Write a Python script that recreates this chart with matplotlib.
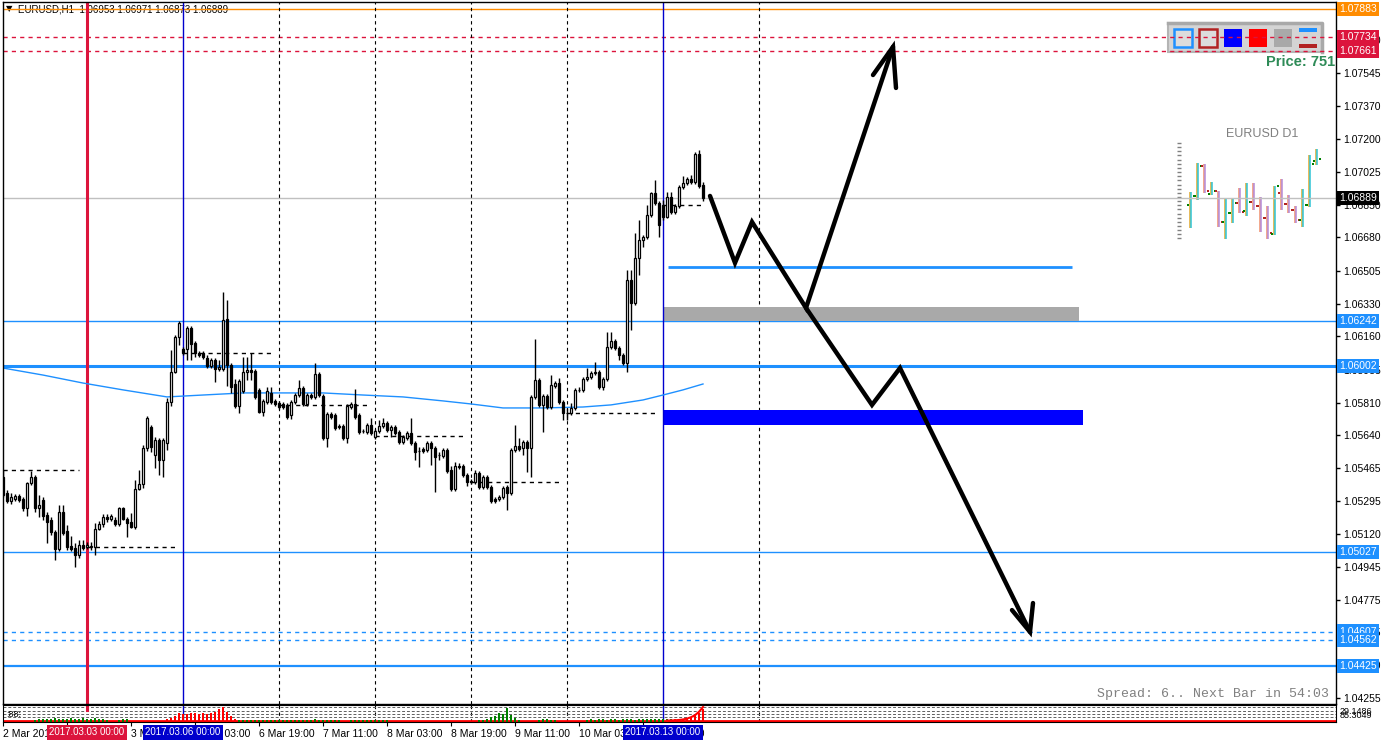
import numpy as np
import matplotlib.pyplot as plt
from matplotlib.patches import Rectangle
from matplotlib.transforms import blended_transform_factory

plt.rcParams['font.family'] = ['Liberation Sans', 'DejaVu Sans']

W, H = 1381, 744

# EURUSD H1 bars, bar 0 = 2 Mar 2017 03:00, last bar = 13 Mar 10:00
opens = [1.05420, 1.05336, 1.05294, 1.05304, 1.05320, 1.05304, 1.05257, 1.05388, 1.05420, 1.05257,
         1.05299, 1.05220, 1.05194, 1.05131, 1.05041, 1.05236, 1.05136, 1.05057, 1.05047, 1.05010,
         1.05062, 1.05052, 1.05052, 1.05052, 1.05146, 1.05173, 1.05210, 1.05199, 1.05194, 1.05173,
         1.05257, 1.05199, 1.05183, 1.05157, 1.05357, 1.05383, 1.05573, 1.05683, 1.05536, 1.05615,
         1.05509, 1.05599, 1.05814, 1.05972, 1.06156, 1.06093, 1.06093, 1.06204, 1.06125, 1.06072,
         1.06072, 1.06046, 1.06004, 1.06035, 1.05988, 1.05988, 1.06251, 1.06009, 1.05909, 1.05793,
         1.05872, 1.05972, 1.05983, 1.05978, 1.05878, 1.05762, 1.05814, 1.05862, 1.05820, 1.05809,
         1.05804, 1.05799, 1.05746, 1.05814, 1.05851, 1.05888, 1.05804, 1.05851, 1.05841, 1.05962,
         1.05846, 1.05625, 1.05751, 1.05746, 1.05688, 1.05688, 1.05625, 1.05788, 1.05804, 1.05746,
         1.05662, 1.05657, 1.05693, 1.05630, 1.05662, 1.05688, 1.05704, 1.05667, 1.05683, 1.05657,
         1.05604, 1.05625, 1.05651, 1.05599, 1.05557, 1.05567, 1.05562, 1.05599, 1.05573, 1.05536,
         1.05530, 1.05562, 1.05457, 1.05357, 1.05478, 1.05478, 1.05430, 1.05399, 1.05394, 1.05441,
         1.05367, 1.05420, 1.05367, 1.05304, 1.05304, 1.05315, 1.05367, 1.05336, 1.05562, 1.05583,
         1.05573, 1.05604, 1.05573, 1.05841, 1.05930, 1.05799, 1.05846, 1.05788, 1.05899, 1.05914,
         1.05814, 1.05757, 1.05757, 1.05783, 1.05878, 1.05878, 1.05935, 1.05946, 1.05967, 1.05972,
         1.05893, 1.05935, 1.06104, 1.06135, 1.06099, 1.06062, 1.06020, 1.06456, 1.06335, 1.06572,
         1.06667, 1.06682, 1.06798, 1.06914, 1.06861, 1.06851, 1.06788, 1.06893, 1.06814, 1.06845,
         1.06945, 1.06966, 1.06987, 1.06972, 1.07119, 1.06953]
closes = [1.05325, 1.05294, 1.05315, 1.05320, 1.05299, 1.05257, 1.05388, 1.05420, 1.05257, 1.05273,
          1.05215, 1.05183, 1.05131, 1.05041, 1.05236, 1.05125, 1.05052, 1.05041, 1.05010, 1.05062,
          1.05047, 1.05062, 1.05057, 1.05146, 1.05173, 1.05210, 1.05199, 1.05215, 1.05173, 1.05257,
          1.05199, 1.05178, 1.05157, 1.05357, 1.05383, 1.05573, 1.05730, 1.05578, 1.05615, 1.05509,
          1.05615, 1.05814, 1.05972, 1.06156, 1.06230, 1.06072, 1.06204, 1.06120, 1.06072, 1.06062,
          1.06051, 1.06004, 1.06035, 1.05988, 1.05999, 1.06246, 1.06009, 1.05893, 1.05793, 1.05925,
          1.05972, 1.05983, 1.05972, 1.05841, 1.05762, 1.05820, 1.05872, 1.05814, 1.05804, 1.05788,
          1.05788, 1.05736, 1.05814, 1.05851, 1.05888, 1.05804, 1.05851, 1.05841, 1.05962, 1.05851,
          1.05625, 1.05751, 1.05736, 1.05678, 1.05683, 1.05625, 1.05793, 1.05804, 1.05736, 1.05657,
          1.05660, 1.05693, 1.05651, 1.05662, 1.05688, 1.05704, 1.05667, 1.05683, 1.05651, 1.05604,
          1.05630, 1.05651, 1.05599, 1.05551, 1.05554, 1.05557, 1.05599, 1.05573, 1.05525, 1.05533,
          1.05562, 1.05452, 1.05357, 1.05478, 1.05473, 1.05430, 1.05394, 1.05396, 1.05441, 1.05367,
          1.05420, 1.05367, 1.05294, 1.05294, 1.05315, 1.05362, 1.05336, 1.05562, 1.05583, 1.05567,
          1.05604, 1.05573, 1.05841, 1.05930, 1.05799, 1.05846, 1.05788, 1.05904, 1.05914, 1.05814,
          1.05757, 1.05754, 1.05783, 1.05878, 1.05875, 1.05935, 1.05946, 1.05967, 1.05972, 1.05893,
          1.05935, 1.06104, 1.06135, 1.06099, 1.06062, 1.06020, 1.06456, 1.06335, 1.06572, 1.06667,
          1.06682, 1.06798, 1.06914, 1.06861, 1.06745, 1.06788, 1.06893, 1.06814, 1.06845, 1.06945,
          1.06966, 1.06987, 1.06972, 1.07119, 1.06951, 1.06889]
highs = [1.05457, 1.05352, 1.05336, 1.05331, 1.05331, 1.05315, 1.05394, 1.05452, 1.05430, 1.05325,
         1.05315, 1.05236, 1.05210, 1.05141, 1.05273, 1.05273, 1.05167, 1.05110, 1.05073, 1.05089,
         1.05089, 1.05078, 1.05078, 1.05178, 1.05189, 1.05225, 1.05225, 1.05225, 1.05210, 1.05262,
         1.05262, 1.05210, 1.05231, 1.05404, 1.05457, 1.05588, 1.05741, 1.05693, 1.05630, 1.05625,
         1.05625, 1.05836, 1.06088, 1.06167, 1.06241, 1.06104, 1.06214, 1.06214, 1.06135, 1.06083,
         1.06083, 1.06062, 1.06046, 1.06046, 1.06035, 1.06393, 1.06351, 1.06020, 1.05935, 1.05935,
         1.06051, 1.06051, 1.06072, 1.05988, 1.05888, 1.05830, 1.05893, 1.05893, 1.05830, 1.05820,
         1.05814, 1.05809, 1.05825, 1.05862, 1.05930, 1.05899, 1.05862, 1.05862, 1.06020, 1.05972,
         1.05857, 1.05762, 1.05762, 1.05757, 1.05699, 1.05699, 1.05804, 1.05814, 1.05883, 1.05757,
         1.05672, 1.05704, 1.05730, 1.05672, 1.05720, 1.05730, 1.05715, 1.05693, 1.05693, 1.05667,
         1.05641, 1.05662, 1.05730, 1.05609, 1.05578, 1.05578, 1.05609, 1.05609, 1.05583, 1.05551,
         1.05573, 1.05573, 1.05478, 1.05499, 1.05494, 1.05488, 1.05441, 1.05409, 1.05457, 1.05452,
         1.05430, 1.05430, 1.05378, 1.05315, 1.05325, 1.05373, 1.05378, 1.05573, 1.05693, 1.05625,
         1.05615, 1.05615, 1.05851, 1.06146, 1.05941, 1.05857, 1.05857, 1.05956, 1.05925, 1.05941,
         1.05825, 1.05783, 1.05809, 1.05888, 1.05893, 1.05946, 1.05993, 1.05978, 1.06025, 1.05983,
         1.05946, 1.06183, 1.06183, 1.06146, 1.06109, 1.06072, 1.06509, 1.06509, 1.06703, 1.06772,
         1.06693, 1.06851, 1.06919, 1.06982, 1.06872, 1.06877, 1.06919, 1.06919, 1.06856, 1.06956,
         1.07003, 1.06998, 1.07008, 1.07129, 1.07140, 1.06971]
lows = [1.05315, 1.05283, 1.05278, 1.05294, 1.05288, 1.05241, 1.05215, 1.05378, 1.05236, 1.05210,
        1.05194, 1.05073, 1.05115, 1.04983, 1.05031, 1.05115, 1.05036, 1.05031, 1.04947, 1.04994,
        1.05036, 1.05041, 1.05036, 1.05010, 1.05141, 1.05157, 1.05183, 1.05189, 1.05162, 1.05162,
        1.05194, 1.05104, 1.05152, 1.05146, 1.05352, 1.05362, 1.05557, 1.05551, 1.05467, 1.05430,
        1.05420, 1.05562, 1.05793, 1.05967, 1.06114, 1.06062, 1.06035, 1.06035, 1.06051, 1.06051,
        1.06041, 1.05993, 1.05993, 1.05920, 1.05978, 1.05978, 1.05899, 1.05862, 1.05783, 1.05757,
        1.05862, 1.05930, 1.05930, 1.05830, 1.05757, 1.05741, 1.05804, 1.05804, 1.05793, 1.05778,
        1.05778, 1.05725, 1.05725, 1.05804, 1.05841, 1.05793, 1.05793, 1.05830, 1.05830, 1.05841,
        1.05615, 1.05578, 1.05725, 1.05667, 1.05672, 1.05615, 1.05599, 1.05778, 1.05725, 1.05646,
        1.05651, 1.05646, 1.05641, 1.05620, 1.05651, 1.05678, 1.05657, 1.05630, 1.05641, 1.05594,
        1.05594, 1.05615, 1.05588, 1.05509, 1.05473, 1.05546, 1.05551, 1.05483, 1.05341, 1.05509,
        1.05520, 1.05441, 1.05346, 1.05346, 1.05462, 1.05420, 1.05373, 1.05383, 1.05383, 1.05357,
        1.05357, 1.05357, 1.05283, 1.05283, 1.05294, 1.05304, 1.05246, 1.05325, 1.05551, 1.05557,
        1.05536, 1.05446, 1.05420, 1.05830, 1.05788, 1.05657, 1.05778, 1.05778, 1.05888, 1.05804,
        1.05720, 1.05720, 1.05746, 1.05772, 1.05867, 1.05867, 1.05925, 1.05935, 1.05956, 1.05883,
        1.05878, 1.05925, 1.06093, 1.06088, 1.06035, 1.06009, 1.05972, 1.06193, 1.06325, 1.06482,
        1.06630, 1.06672, 1.06788, 1.06851, 1.06682, 1.06772, 1.06782, 1.06803, 1.06803, 1.06835,
        1.06935, 1.06956, 1.06961, 1.06961, 1.06940, 1.06873]

# moving average (sampled)
ma_bars = [0, 10, 20, 30, 41, 50, 60, 70, 80, 90, 100, 110, 117, 125, 135, 145, 152, 160, 165, 170, 175]
ma_vals = [1.05993, 1.05956, 1.05914, 1.05878, 1.05841, 1.05851, 1.05862, 1.05862, 1.05862, 1.05851,
           1.05841, 1.05820, 1.05804, 1.05783, 1.05783, 1.05788, 1.05799, 1.05825, 1.05851, 1.05878, 1.05909]

# daily open levels
day_starts = [-3, 21, 45, 69, 93, 117, 141, 165]
day_levels = [1.05457, 1.05052, 1.06072, 1.05799, 1.05636, 1.05394, 1.05757, 1.06851]

# horizontal levels: price, colour, dashed, width
levels = [(1.07883, '#ff8c00', False, 1.0), (1.07734, '#dc143c', True, 1.0), (1.07661, '#dc143c', True, 1.0),
          (1.06889, '#c0c0c0', False, 1.0), (1.06242, '#1e90ff', False, 1.0), (1.06002, '#1e90ff', False, 2.2),
          (1.05027, '#1e90ff', False, 1.0), (1.04607, '#1e90ff', True, 1.0), (1.04562, '#1e90ff', True, 1.0),
          (1.04425, '#1e90ff', False, 1.6)]
label_colors = ['#ff8c00', '#dc143c', '#dc143c', 'black', '#1e90ff', '#1e90ff', '#1e90ff', '#1e90ff', '#1e90ff', '#1e90ff']

price_ticks = [1.07720, 1.07545, 1.07370, 1.07200, 1.07025, 1.06850, 1.06680, 1.06505, 1.06330, 1.06160,
               1.05985, 1.05810, 1.05640, 1.05465, 1.05295, 1.05120, 1.04945, 1.04775, 1.04605, 1.04430, 1.04255]

time_ticks = [0, 16, 32, 48, 64, 80, 96, 112, 128, 144, 160]
time_labels = ['2 Mar 2017', '2 Mar 19:00', '3 Mar 11:00', '6 Mar 03:00', '6 Mar 19:00', '7 Mar 11:00',
               '8 Mar 03:00', '8 Mar 19:00', '9 Mar 11:00', '10 Mar 03:00', '10 Mar 19:00']
day_grid = [69, 93, 117, 141, 189]

# drawn objects
level_seg = (166.25, 267.25, 1.06522)
gray_zone = (165, 269, 1.06242, 1.06314)
blue_zone = (165, 270, 1.05693, 1.05772)
up_path_x = [176.75, 183, 187.25, 200.75, 222.5]
up_path_y = [1.06898, 1.06546, 1.06761, 1.06309, 1.07682]
up_head_x = [217.5, 222.5, 223.25]
up_head_y = [1.07534, 1.07682, 1.07466]
dn_path_x = [200.75, 217.25, 224.25, 256.75]
dn_path_y = [1.06309, 1.05799, 1.05993, 1.04605]
dn_head_x = [252.25, 256.75, 257.5]
dn_head_y = [1.04720, 1.04605, 1.04757]

# volume indicator
vol_green = [0, 0, 0, 0, 0, 0, 0, 0, 0.12, 0.15, 0.2, 0.18, 0.2, 0.22, 0.2, 0.18, 0.2, 0.22, 0.2, 0.2,
             0.22, 0.2, 0.2, 0.25, 0.2, 0.18, 0.1, 0, 0, 0.1, 0.15, 0.15, 0, 0, 0, 0, 0, 0, 0, 0,
             0, 0, 0, 0, 0, 0, 0, 0, 0, 0, 0, 0, 0, 0, 0, 0, 0, 0, 0, 0.1,
             0.12, 0.1, 0.12, 0.1, 0.1, 0.12, 0.1, 0.1, 0.12, 0.1, 0.12, 0.1, 0.1, 0.12, 0.1, 0.1, 0.12, 0.1, 0.15, 0.12,
             0.1, 0.12, 0.1, 0.12, 0.1, 0, 0, 0.1, 0.12, 0.1, 0.12, 0.14, 0.12, 0.1, 0.1, 0.12, 0.1, 0, 0, 0,
             0, 0, 0, 0, 0, 0, 0, 0, 0, 0, 0, 0, 0, 0, 0, 0, 0, 0, 0, 0.1,
             0.12, 0.15, 0.3, 0.35, 0.55, 0.45, 0.85, 0.4, 0.25, 0.1, 0, 0, 0, 0, 0.12, 0.15, 0.15, 0.12, 0.1, 0,
             0, 0, 0, 0, 0, 0, 0.12, 0.15, 0.12, 0.15, 0.15, 0.12, 0.15, 0.15, 0.12, 0.15, 0.15, 0.15, 0.12, 0.15,
             0.15, 0.15, 0.15, 0.15, 0.15, 0.15, 0.15, 0.15, 0.15, 0.15, 0.15, 0.15, 0.15, 0.15, 0.15, 0.15]
red_start1 = 41
vol_red1 = [0.15, 0.25, 0.35, 0.55, 0.45, 0.5, 0.55, 0.55, 0.5, 0.55, 0.5, 0.55, 0.6, 0.75, 0.9, 0.6, 0.35, 0.2]
red_start2 = 166
vol_red2 = [0.12, 0.12, 0.15, 0.15, 0.2, 0.25, 0.3, 0.4, 0.55, 0.75]
red_line2 = [0.08, 0.09, 0.1, 0.12, 0.15, 0.2, 0.28, 0.4, 0.6, 0.88]

# EURUSD D1 mini chart
d1_open = [1.0623, 1.0656, 1.0768, 1.0663, 1.0676, 1.0561, 1.0594, 1.0631, 1.0602, 1.0635,
           1.0619, 1.0576, 1.0514, 1.0668, 1.0627, 1.0604, 1.0567, 1.0623, 1.0787]
d1_high = [1.0672, 1.0778, 1.0775, 1.0708, 1.0676, 1.0649, 1.0649, 1.0686, 1.0704, 1.0704,
           1.0653, 1.0619, 1.0693, 1.0719, 1.0660, 1.0619, 1.0682, 1.0808, 1.0830]
d1_low = [1.0537, 1.0641, 1.0667, 1.0660, 1.0543, 1.0497, 1.0556, 1.0593, 1.0582, 1.0604,
          1.0524, 1.0497, 1.0512, 1.0604, 1.0593, 1.0557, 1.0543, 1.0615, 1.0771]
d1_close = [1.0656, 1.0768, 1.0676, 1.0676, 1.0561, 1.0594, 1.0631, 1.0598, 1.0635, 1.0619,
            1.0576, 1.0518, 1.0694, 1.0627, 1.0604, 1.0567, 1.0623, 1.0773, 1.0794]


def fx(x):
    return x / W


def fy(y):
    return 1 - y / H


fig = plt.figure(figsize=(W / 100, H / 100), dpi=100)
fig.patch.set_facecolor('white')

# pixel overlay for the terminal decorations (behind the chart)
ov = fig.add_axes([0, 0, 1, 1], zorder=0)
ov.set_xlim(0, W)
ov.set_ylim(H, 0)
ov.axis('off')

ax = fig.add_axes([fx(3), fy(704), (1336 - 3) / W, (704 - 2) / H], zorder=1)
ax.set_facecolor('none')
axv = fig.add_axes([fx(3), fy(722), (1336 - 3) / W, (722 - 705) / H], zorder=1)
axv.set_facecolor('none')

xmax = 333.25
ax.set_xlim(0, xmax)
ax.set_ylim(1.04226, 1.07918)
axv.set_xlim(0, xmax)
axv.set_ylim(0, 1)

o = np.array(opens)
c = np.array(closes)
hi = np.array(highs)
lo = np.array(lows)
bx = np.arange(len(o))
bull = c >= o

# levels
for (p, col, dashed, lw) in levels:
    ax.axhline(p, color=col, lw=lw, ls=(0, (3, 3)) if dashed else '-', zorder=1)

for b in day_grid:
    ax.axvline(b, color='black', lw=0.8, ls=(0, (3, 3)), zorder=1)
    axv.axvline(b, color='black', lw=0.8, ls=(0, (3, 3)), zorder=1)

ax.axvline(21, color='#dc143c', lw=2.2, zorder=2)
axv.axvline(21, ymin=0.7, ymax=1, color='#dc143c', lw=2.2, zorder=2)
for b in [45, 165]:
    ax.axvline(b, color='#0000cd', lw=1, zorder=2)
    axv.axvline(b, color='#0000cd', lw=1, zorder=2)

for s, lev in zip(day_starts, day_levels):
    ax.hlines(lev, max(s, 0), min(s + 22, len(o) - 1), colors='black', linestyles=(0, (3, 3)), lw=1, zorder=2)

ax.plot(ma_bars, ma_vals, color='#1e90ff', lw=1, zorder=2)

# zones
ax.add_patch(Rectangle((gray_zone[0], gray_zone[2]), gray_zone[1] - gray_zone[0], gray_zone[3] - gray_zone[2],
                       fc='#a9a9a9', ec='none', zorder=1.5))
ax.add_patch(Rectangle((blue_zone[0], blue_zone[2]), blue_zone[1] - blue_zone[0], blue_zone[3] - blue_zone[2],
                       fc='#0000ff', ec='none', zorder=1.5))
ax.hlines(level_seg[2], level_seg[0], level_seg[1], colors='#1e90ff', lw=2, zorder=2)

# candles
ax.vlines(bx, lo, hi, color='black', lw=1, zorder=3)
body = np.maximum(np.abs(c - o), 0.00003)
ax.bar(bx, body, bottom=np.minimum(o, c), width=0.5, color=np.where(bull, 'white', 'black'),
       edgecolor='black', linewidth=0.9, zorder=4)

# hand-drawn arrows
for px_, py_ in [(up_path_x, up_path_y), (up_head_x, up_head_y), (dn_path_x, dn_path_y), (dn_head_x, dn_head_y)]:
    ax.plot(px_, py_, color='black', lw=3.2, solid_capstyle='round', solid_joinstyle='miter', zorder=5)

# right price scale
ax.yaxis.tick_right()
ax.set_yticks(price_ticks)
ax.set_yticklabels(['%.5f' % t for t in price_ticks])
ax.tick_params(axis='y', length=3, pad=2, labelsize=7.5, width=1)
ax.tick_params(axis='x', bottom=False, labelbottom=False)
trans = blended_transform_factory(ax.transAxes, ax.transData)
for (p, col, dashed, lw), lc in zip(levels, label_colors):
    ax.text(1 + 3 / 1333, p, '%.5f' % p, transform=trans, color='white', fontsize=7.5, va='center', ha='left',
            bbox=dict(boxstyle='square,pad=0.2', fc=lc, ec='none'), zorder=6, clip_on=False)
for sp in ax.spines.values():
    sp.set_color('black')
    sp.set_linewidth(1)

# volume panel
axv.axhline(0.06, color='red', lw=2, zorder=2)
for lv in [0.88, 0.65, 0.47, 0.29]:
    axv.axhline(lv, color='#606060', lw=0.7, ls=(0, (3, 2)), zorder=1)
axv.bar(bx, vol_green, width=0.7, color='green', zorder=3)
axv.bar(np.arange(red_start1, red_start1 + len(vol_red1)), vol_red1, width=0.35, color='red', zorder=3)
axv.bar(np.arange(red_start2, red_start2 + len(vol_red2)), vol_red2, width=0.35, color='red', zorder=3)
axv.plot(np.arange(red_start2, red_start2 + len(red_line2)), red_line2, color='red', lw=1.5, zorder=4)
axv.set_yticks([])
axv.set_xticks(time_ticks)
axv.set_xticklabels(time_labels)
for lbl in axv.get_xticklabels():
    lbl.set_ha('left')
axv.tick_params(axis='x', length=3, pad=2, labelsize=7.5)
axv.text(0.8, 0.45, ':88:', fontsize=6.5, va='center', ha='left')
for sp in axv.spines.values():
    sp.set_color('black')

for b, txt, col in [(21, '2017.03.03 00:00', '#dc143c'), (45, '2017.03.06 00:00', '#0000cd'),
                    (165, '2017.03.13 00:00', '#0000cd')]:
    axv.text(b, -0.6, txt, fontsize=7, color='white', ha='center', va='center', zorder=6, clip_on=False,
             bbox=dict(boxstyle='square,pad=0.25', fc=col, ec='none'))

fig.text(fx(1340), fy(711), '29.1486', fontsize=6.5, va='center')
fig.text(fx(1340), fy(716), '85.3049', fontsize=6.5, va='center')

# header and status texts
ov.text(9, 9, '\u25bc', fontsize=6, ha='center', va='center', family=['DejaVu Sans'])
ov.text(18, 10, 'EURUSD,H1  1.06953 1.06971 1.06873 1.06889', fontsize=7, va='center')
ov.text(1329, 694, 'Spread: 6.. Next Bar in 54:03', fontsize=9.5, family=['Liberation Mono'],
        color='#808080', ha='right', va='center')
ov.text(1335, 62, 'Price: 751', fontsize=10.5, color='#2e8b57', weight='bold', ha='right', va='center')

# tool panel
ov.add_patch(Rectangle((1168, 23), 154, 29, fc='#d4d4d4', ec='#b4b4b4', lw=1.5))
ov.plot([1168, 1322, 1322], [23, 23, 52], color='#a9a9a9', lw=2.5)
ov.add_patch(Rectangle((1174, 29), 18, 18, fc='#dcdcdc', ec='#1e90ff', lw=1.8))
ov.add_patch(Rectangle((1199, 29), 18, 18, fc='#dcdcdc', ec='#b22222', lw=1.8))
ov.add_patch(Rectangle((1224, 29), 18, 18, fc='#0000ff', ec='none'))
ov.add_patch(Rectangle((1249, 29), 18, 18, fc='#ff0000', ec='none'))
ov.add_patch(Rectangle((1274, 29), 18, 18, fc='#a9a9a9', ec='none'))
ov.add_patch(Rectangle((1299, 28), 18, 4, fc='#1e90ff', ec='none'))
ov.add_patch(Rectangle((1299, 44), 18, 4, fc='#b22222', ec='none'))

# D1 mini chart
ov.text(1262, 134, 'EURUSD D1', fontsize=9, color='#808080', ha='center', va='center')
ov.hlines(np.arange(143, 239, 4.15), 1177, 1181, color='#808080', lw=1)
mini = fig.add_axes([fx(1176), fy(242), 154 / W, 102 / H], zorder=0)
mini.set_xlim(-2.1, 19.9)
mini.set_ylim(1.04859, 1.08633)
mini.axis('off')
for k in range(len(d1_open)):
    up = d1_close[k] >= d1_open[k]
    c1, c2 = ('#e0a82e', '#2ec4d6') if up else ('#ef8f6e', '#b48ad8')
    mini.vlines(k - 0.08, d1_low[k], d1_high[k], color=c1, lw=1.1)
    mini.vlines(k + 0.08, d1_low[k], d1_high[k], color=c2, lw=1.1)
    tc = '#008000' if up else '#b22222'
    mini.plot([k - 0.35], [d1_open[k]], 's', ms=2, color=tc, mew=0)
    mini.plot([k + 0.45], [d1_close[k]], 's', ms=2, color=tc, mew=0)

fig.savefig('out.png', dpi=100)
